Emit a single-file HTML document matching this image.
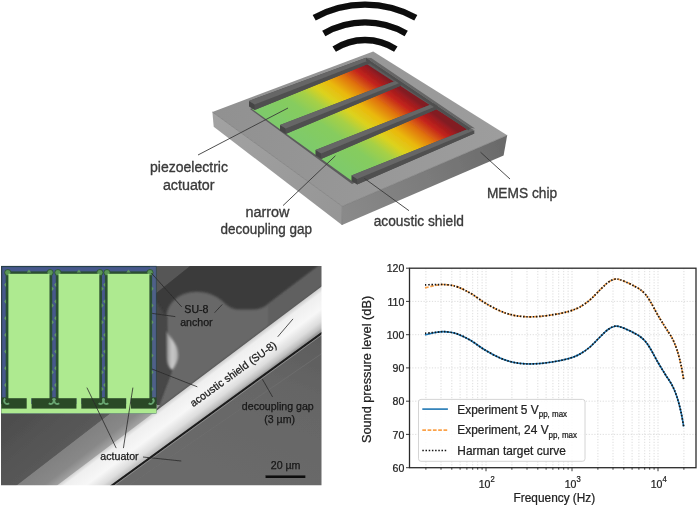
<!DOCTYPE html>
<html lang="en"><head><meta charset="utf-8"><title>MEMS loudspeaker figure</title>
<style>
html,body{margin:0;padding:0;background:#fff;}
body{width:700px;height:509px;overflow:hidden;font-family:"Liberation Sans",sans-serif;}
svg{display:block;}
.lbl{font-family:"Liberation Sans",sans-serif;fill:#3a3a3a;stroke:#3a3a3a;stroke-width:0.35px;}
.sem{font-family:"Liberation Sans",sans-serif;fill:#161616;stroke:#161616;stroke-width:0.25px;font-size:10.6px;}
.ax{font-family:"Liberation Sans",sans-serif;fill:#222;stroke:#222;stroke-width:0.25px;}
</style></head><body>
<svg width="700" height="509" viewBox="0 0 700 509">
<defs>
<filter id="soft" x="-5%" y="-5%" width="110%" height="110%"><feGaussianBlur stdDeviation="0.6"/></filter>
<filter id="soft2" x="-5%" y="-5%" width="110%" height="110%"><feGaussianBlur stdDeviation="0.9"/></filter>
<filter id="soft3" x="-5%" y="-5%" width="110%" height="110%"><feGaussianBlur stdDeviation="2"/></filter>
</defs>
<rect width="700" height="509" fill="#ffffff"/>

<g id="chip" filter="url(#soft)">
<path d="M314.2 17.7 A105 105 0 0 1 415.8 17.7" fill="none" stroke="#0a0a0a" stroke-width="6.3"/>
<path d="M323.8 33.5 A81.9 81.9 0 0 1 406.2 33.5" fill="none" stroke="#0a0a0a" stroke-width="6.3"/>
<path d="M334.2 49.2 A56.2 56.2 0 0 1 395.8 49.2" fill="none" stroke="#0a0a0a" stroke-width="6.3"/>
<linearGradient id="gTop" gradientUnits="userSpaceOnUse" x1="220" y1="110" x2="500" y2="140"><stop offset="0" stop-color="#919191"/><stop offset="1" stop-color="#9d9d9d"/></linearGradient>
<linearGradient id="gLeft" gradientUnits="userSpaceOnUse" x1="212" y1="120" x2="341" y2="215"><stop offset="0" stop-color="#a2a2a2"/><stop offset="1" stop-color="#969696"/></linearGradient>
<linearGradient id="gRight" gradientUnits="userSpaceOnUse" x1="341" y1="215" x2="505" y2="146"><stop offset="0" stop-color="#8a8a8a"/><stop offset="0.5" stop-color="#7c7c7c"/><stop offset="1" stop-color="#6a6a6a"/></linearGradient>
<polygon points="212.4,112.0 342.3,206.3 342.0,224.9 213.7,126.8" fill="url(#gLeft)" />
<polygon points="342.3,206.3 507.2,135.3 503.6,155.5 342.0,224.9" fill="url(#gRight)" />
<polygon points="212.4,112.0 373.2,51.5 507.2,135.3 342.3,206.3" fill="url(#gTop)" />
<path d="M212.4 112 L342.3 206.3 L507.2 135.3 M342.3 206.3 L342 224.9" fill="none" stroke="#777" stroke-width="0.7"/>
<linearGradient id="gMem" gradientUnits="userSpaceOnUse" x1="0" y1="0" x2="1" y2="0" gradientTransform="matrix(113 -46 98 72 252 109)">
<stop offset="0" stop-color="#7dca6c"/><stop offset="0.28" stop-color="#86cc5e"/><stop offset="0.42" stop-color="#a6d046"/><stop offset="0.53" stop-color="#dcd21e"/><stop offset="0.65" stop-color="#eab80c"/><stop offset="0.78" stop-color="#e0720f"/><stop offset="0.89" stop-color="#c4241c"/><stop offset="0.965" stop-color="#9c1a20"/><stop offset="1" stop-color="#821a22"/></linearGradient>
<polygon points="250.0,109.0 366.0,60.5 473.0,131.0 352.0,184.0" fill="#5c5c5c" />
<polygon points="252.0,109.0 365.0,63.0 469.0,130.5 352.0,181.0" fill="url(#gMem)" />
<polygon points="249.0,100.9 366.0,57.8 369.8,63.3 254.6,110.1" fill="#505050" />
<polygon points="254.6,104.5 369.8,60.1 369.8,63.3 254.6,110.1" fill="#505050" />
<polygon points="249.0,100.9 254.6,104.5 254.6,110.1 249.0,106.5" fill="#454545" />
<polygon points="249.0,100.9 366.0,57.8 369.8,60.1 254.6,104.5" fill="#666666" />
<polygon points="280.0,124.9 397.0,80.3 400.8,85.8 285.6,134.1" fill="#505050" />
<polygon points="285.6,128.5 400.8,82.6 400.8,85.8 285.6,134.1" fill="#505050" />
<polygon points="280.0,124.9 285.6,128.5 285.6,134.1 280.0,130.5" fill="#454545" />
<polygon points="280.0,124.9 397.0,80.3 400.8,82.6 285.6,128.5" fill="#666666" />
<polygon points="315.5,149.9 434.0,103.3 437.8,108.8 321.1,159.1" fill="#505050" />
<polygon points="321.1,153.5 437.8,105.6 437.8,108.8 321.1,159.1" fill="#505050" />
<polygon points="315.5,149.9 321.1,153.5 321.1,159.1 315.5,155.5" fill="#454545" />
<polygon points="315.5,149.9 434.0,103.3 437.8,105.6 321.1,153.5" fill="#666666" />
<polygon points="351.5,175.4 470.5,128.0 474.3,133.5 357.1,184.6" fill="#505050" />
<polygon points="357.1,179.0 474.3,130.3 474.3,133.5 357.1,184.6" fill="#505050" />
<polygon points="351.5,175.4 357.1,179.0 357.1,184.6 351.5,181.0" fill="#454545" />
<polygon points="351.5,175.4 470.5,128.0 474.3,130.3 357.1,179.0" fill="#666666" />
<polygon points="366.0,57.8 371.2,58.1 475.0,128.4 470.5,128.0" fill="#666666" />
<polygon points="366.0,57.8 366.0,61.0 468.5,130.6 470.5,128.0" fill="#505050" />
<line x1="198" y1="155" x2="288" y2="108" stroke="#3a3a3a" stroke-width="0.9"/>
<line x1="283" y1="205.6" x2="335.4" y2="155.8" stroke="#3a3a3a" stroke-width="0.9"/>
<line x1="409" y1="210.7" x2="364.3" y2="178.3" stroke="#3a3a3a" stroke-width="0.9"/>
<line x1="480.5" y1="152.2" x2="510" y2="179" stroke="#3a3a3a" stroke-width="0.9"/>
<text class="lbl" x="189" y="172.4" font-size="15.2" text-anchor="middle" textLength="78" lengthAdjust="spacingAndGlyphs">piezoelectric</text>
<text class="lbl" x="188.7" y="190.4" font-size="15.2" text-anchor="middle" textLength="51.6" lengthAdjust="spacingAndGlyphs">actuator</text>
<text class="lbl" x="267.5" y="216.5" font-size="15.2" text-anchor="middle" textLength="44.1" lengthAdjust="spacingAndGlyphs">narrow</text>
<text class="lbl" x="266.3" y="233.9" font-size="15.2" text-anchor="middle" textLength="91.5" lengthAdjust="spacingAndGlyphs">decoupling gap</text>
<text class="lbl" x="418.8" y="225.7" font-size="15.2" text-anchor="middle" textLength="90.2" lengthAdjust="spacingAndGlyphs">acoustic shield</text>
<text class="lbl" x="522" y="197.6" font-size="15.2" text-anchor="middle" textLength="70.2" lengthAdjust="spacingAndGlyphs">MEMS chip</text>
</g>
<clipPath id="cSem"><rect x="1" y="266" width="320.5" height="219.2"/></clipPath>
<g id="sem" clip-path="url(#cSem)" filter="url(#soft)">
<rect x="1" y="266" width="320.5" height="219.2" fill="#5e5e5e"/>
<linearGradient id="gLow" gradientUnits="userSpaceOnUse" x1="321" y1="335" x2="260" y2="485"><stop offset="0" stop-color="#5c5c5c"/><stop offset="0.35" stop-color="#656565"/><stop offset="1" stop-color="#6a6a6a"/></linearGradient>
<polygon points="330.0,325.9 100.0,493.1 100.0,500.0 330.0,500.0" fill="url(#gLow)" />
<polygon points="0.0,260.0 330.0,260.0 330.0,280.2 40.0,498.3 0.0,528.4" fill="#3b3b3b" />
<polygon points="150,258 200,258 150,298" fill="#575757" filter="url(#soft)"/>
<path d="M196 291.8 C211 291.8 219 298 225 303.5 Q231 309.6 240 309.6 L252 309.6 Q262 309.6 270 302.4 L340 249.7 L340 272.7 L120 438.2 L156 412 L172.4 368.6 L178 352 L167 333 C166 328 166.3 322 166.3 318 C166.3 303 180 291.8 196 291.8 Z" fill="#676767" filter="url(#soft2)"/>
<polygon points="268,304.9 340,250.7 340,272.7 268,326.9" fill="#5a5a5a" fill-opacity="0.55" filter="url(#soft2)"/>
<polygon points="155,300 167,318 167,333 173,366 156,412 150,412 150,300" fill="#474747" filter="url(#soft2)"/>
<linearGradient id="gCol" gradientUnits="userSpaceOnUse" x1="166" y1="350" x2="180" y2="350"><stop offset="0" stop-color="#8a8a8a"/><stop offset="0.45" stop-color="#c9c9c9"/><stop offset="0.8" stop-color="#b0b0b0"/><stop offset="1" stop-color="#7a7a7a"/></linearGradient>
<path d="M166.5 331 C170 337 177.5 344 178.5 353 C179 360 175 366 172.5 370 C169 368 167 364 166.8 358 Z" fill="url(#gCol)" filter="url(#soft2)"/>
<linearGradient id="gTri" gradientUnits="userSpaceOnUse" x1="20" y1="415" x2="65" y2="470"><stop offset="0" stop-color="#4e4e4e"/><stop offset="0.7" stop-color="#585858"/><stop offset="1" stop-color="#626262"/></linearGradient>
<polygon points="0.0,405.0 121.0,405.0 16.7,485.2 10.0,495.0 0.0,495.0" fill="url(#gTri)" />
<linearGradient id="gBand" gradientUnits="userSpaceOnUse" x1="50" y1="440" x2="76" y2="474"><stop offset="0" stop-color="#7a7a7a"/><stop offset="0.75" stop-color="#888888"/><stop offset="1" stop-color="#a8a8a8"/></linearGradient>
<polygon points="4.0,495.0 16.7,485.2 121.0,405.0 160.0,405.0 150.0,417.6 40.0,506.3 30.0,500.0" fill="url(#gBand)" />
<linearGradient id="gBar" gradientUnits="userSpaceOnUse" x1="190" y1="385.5" x2="210.9" y2="413.4"><stop offset="0" stop-color="#cfcfcf"/><stop offset="0.12" stop-color="#efefef"/><stop offset="0.5" stop-color="#f7f7f7"/><stop offset="0.78" stop-color="#dddddd"/><stop offset="0.93" stop-color="#bdbdbd"/><stop offset="1" stop-color="#9a9a9a"/></linearGradient>
<polygon points="-10.0,535.9 330.0,280.2 330.0,325.9 -10.0,573.0" fill="url(#gBar)" />
<line x1="90" y1="501.5" x2="330" y2="327.1" stroke="#1e1e1e" stroke-width="2"/>
<line x1="90" y1="503.3" x2="330" y2="328.9" stroke="#8a8a8a" stroke-width="1"/>
<line x1="120" y1="491.5" x2="330" y2="347.9" stroke="#6e6e6e" stroke-width="0.8"/>
</g>
<g id="inset" filter="url(#soft)">
<rect x="1.3" y="265.9" width="155.2" height="147.5" fill="#27404a"/>
<rect x="2.2" y="267.09999999999997" width="153.39999999999998" height="146.3" fill="#46598c"/>
<rect x="150" y="266.7" width="5.8" height="146.5" fill="#4f6088"/>
<rect x="1.3" y="404" width="155.2" height="9.399999999999977" fill="#aeea90"/>
<rect x="1.3" y="397.4" width="25.7" height="11.2" fill="#2b4a28"/>
<rect x="31.5" y="397.4" width="45.2" height="11.2" fill="#2b4a28"/>
<rect x="81.2" y="397.4" width="45.2" height="11.2" fill="#2b4a28"/>
<rect x="130.9" y="397.4" width="25.599999999999994" height="11.2" fill="#2b4a28"/>
<rect x="5.7" y="271.40000000000003" width="46.5" height="126.6" fill="#2a4f30"/>
<rect x="55.8" y="271.40000000000003" width="46.199999999999996" height="126.6" fill="#2a4f30"/>
<rect x="104.89999999999999" y="271.40000000000003" width="47.20000000000001" height="126.6" fill="#2a4f30"/>
<polygon points="6.0,282.6 4.0,284.8 6.0,287.0" fill="#5f9660"/>
<polygon points="51.9,286.6 53.9,288.8 51.9,291.0" fill="#5f9660"/>
<polygon points="6.0,299.3 4.0,301.5 6.0,303.7" fill="#5f9660"/>
<polygon points="51.9,303.3 53.9,305.5 51.9,307.7" fill="#5f9660"/>
<polygon points="6.0,316.0 4.0,318.2 6.0,320.4" fill="#5f9660"/>
<polygon points="51.9,320.0 53.9,322.2 51.9,324.4" fill="#5f9660"/>
<polygon points="6.0,332.7 4.0,334.9 6.0,337.09999999999997" fill="#5f9660"/>
<polygon points="51.9,336.7 53.9,338.9 51.9,341.09999999999997" fill="#5f9660"/>
<polygon points="6.0,349.40000000000003 4.0,351.6 6.0,353.8" fill="#5f9660"/>
<polygon points="51.9,353.40000000000003 53.9,355.6 51.9,357.8" fill="#5f9660"/>
<polygon points="6.0,366.1 4.0,368.3 6.0,370.5" fill="#5f9660"/>
<polygon points="51.9,370.1 53.9,372.3 51.9,374.5" fill="#5f9660"/>
<polygon points="6.0,382.8 4.0,385.0 6.0,387.2" fill="#5f9660"/>
<polygon points="51.9,386.8 53.9,389.0 51.9,391.2" fill="#5f9660"/>
<polygon points="56.1,282.6 54.1,284.8 56.1,287.0" fill="#5f9660"/>
<polygon points="101.7,286.6 103.7,288.8 101.7,291.0" fill="#5f9660"/>
<polygon points="56.1,299.3 54.1,301.5 56.1,303.7" fill="#5f9660"/>
<polygon points="101.7,303.3 103.7,305.5 101.7,307.7" fill="#5f9660"/>
<polygon points="56.1,316.0 54.1,318.2 56.1,320.4" fill="#5f9660"/>
<polygon points="101.7,320.0 103.7,322.2 101.7,324.4" fill="#5f9660"/>
<polygon points="56.1,332.7 54.1,334.9 56.1,337.09999999999997" fill="#5f9660"/>
<polygon points="101.7,336.7 103.7,338.9 101.7,341.09999999999997" fill="#5f9660"/>
<polygon points="56.1,349.40000000000003 54.1,351.6 56.1,353.8" fill="#5f9660"/>
<polygon points="101.7,353.40000000000003 103.7,355.6 101.7,357.8" fill="#5f9660"/>
<polygon points="56.1,366.1 54.1,368.3 56.1,370.5" fill="#5f9660"/>
<polygon points="101.7,370.1 103.7,372.3 101.7,374.5" fill="#5f9660"/>
<polygon points="56.1,382.8 54.1,385.0 56.1,387.2" fill="#5f9660"/>
<polygon points="101.7,386.8 103.7,389.0 101.7,391.2" fill="#5f9660"/>
<polygon points="105.19999999999999,282.6 103.19999999999999,284.8 105.19999999999999,287.0" fill="#5f9660"/>
<polygon points="151.8,286.6 153.6,288.8 151.8,291.0" fill="#5f9660"/>
<polygon points="105.19999999999999,299.3 103.19999999999999,301.5 105.19999999999999,303.7" fill="#5f9660"/>
<polygon points="151.8,303.3 153.6,305.5 151.8,307.7" fill="#5f9660"/>
<polygon points="105.19999999999999,316.0 103.19999999999999,318.2 105.19999999999999,320.4" fill="#5f9660"/>
<polygon points="151.8,320.0 153.6,322.2 151.8,324.4" fill="#5f9660"/>
<polygon points="105.19999999999999,332.7 103.19999999999999,334.9 105.19999999999999,337.09999999999997" fill="#5f9660"/>
<polygon points="151.8,336.7 153.6,338.9 151.8,341.09999999999997" fill="#5f9660"/>
<polygon points="105.19999999999999,349.40000000000003 103.19999999999999,351.6 105.19999999999999,353.8" fill="#5f9660"/>
<polygon points="151.8,353.40000000000003 153.6,355.6 151.8,357.8" fill="#5f9660"/>
<polygon points="105.19999999999999,366.1 103.19999999999999,368.3 105.19999999999999,370.5" fill="#5f9660"/>
<polygon points="151.8,370.1 153.6,372.3 151.8,374.5" fill="#5f9660"/>
<polygon points="105.19999999999999,382.8 103.19999999999999,385.0 105.19999999999999,387.2" fill="#5f9660"/>
<polygon points="151.8,386.8 153.6,389.0 151.8,391.2" fill="#5f9660"/>
<circle cx="7.800000000000001" cy="272.6" r="3.1" fill="#5a9656"/>
<circle cx="7.800000000000001" cy="272.6" r="3.1" fill="none" stroke="#2a4f30" stroke-width="0.8"/>
<circle cx="50.1" cy="272.6" r="3.1" fill="#5a9656"/>
<circle cx="50.1" cy="272.6" r="3.1" fill="none" stroke="#2a4f30" stroke-width="0.8"/>
<polygon points="26.75,272.4 28.95,269.6 31.15,272.4" fill="#5f9660"/>
<path d="M5.300000000000001 398.5 A3 3 0 0 0 9.1 403.2" fill="none" stroke="#68a470" stroke-width="1.9"/>
<path d="M52.6 398.5 A3 3 0 0 1 48.8 403.2" fill="none" stroke="#68a470" stroke-width="1.9"/>
<circle cx="57.9" cy="272.6" r="3.1" fill="#5a9656"/>
<circle cx="57.9" cy="272.6" r="3.1" fill="none" stroke="#2a4f30" stroke-width="0.8"/>
<circle cx="99.89999999999999" cy="272.6" r="3.1" fill="#5a9656"/>
<circle cx="99.89999999999999" cy="272.6" r="3.1" fill="none" stroke="#2a4f30" stroke-width="0.8"/>
<polygon points="76.7,272.4 78.9,269.6 81.10000000000001,272.4" fill="#5f9660"/>
<path d="M55.4 398.5 A3 3 0 0 0 59.2 403.2" fill="none" stroke="#68a470" stroke-width="1.9"/>
<path d="M102.39999999999999 398.5 A3 3 0 0 1 98.6 403.2" fill="none" stroke="#68a470" stroke-width="1.9"/>
<circle cx="107.0" cy="272.6" r="3.1" fill="#5a9656"/>
<circle cx="107.0" cy="272.6" r="3.1" fill="none" stroke="#2a4f30" stroke-width="0.8"/>
<circle cx="150.0" cy="272.6" r="3.1" fill="#5a9656"/>
<circle cx="150.0" cy="272.6" r="3.1" fill="none" stroke="#2a4f30" stroke-width="0.8"/>
<polygon points="126.3,272.4 128.5,269.6 130.7,272.4" fill="#5f9660"/>
<path d="M104.5 398.5 A3 3 0 0 0 108.3 403.2" fill="none" stroke="#68a470" stroke-width="1.9"/>
<path d="M152.5 398.5 A3 3 0 0 1 148.70000000000002 403.2" fill="none" stroke="#68a470" stroke-width="1.9"/>
<rect x="8.4" y="273.8" width="41.1" height="124.4" fill="#aeea90"/>
<rect x="26.7" y="396" width="4.5" height="14" fill="#aeea90"/>
<rect x="58.5" y="273.8" width="40.8" height="124.4" fill="#aeea90"/>
<rect x="76.65" y="396" width="4.5" height="14" fill="#aeea90"/>
<rect x="107.6" y="273.8" width="41.80000000000001" height="124.4" fill="#aeea90"/>
<rect x="126.25" y="396" width="4.5" height="14" fill="#aeea90"/>
</g>
<g id="semtext" filter="url(#soft)">
<line x1="151.3" y1="273" x2="181.8" y2="307" stroke="#2a2a2a" stroke-width="0.8"/>
<line x1="152.2" y1="313.4" x2="175.3" y2="316.6" stroke="#2a2a2a" stroke-width="0.8"/>
<line x1="214.5" y1="312.8" x2="222.3" y2="304.4" stroke="#2a2a2a" stroke-width="0.8"/>
<line x1="277.7" y1="336.8" x2="293" y2="318.9" stroke="#2a2a2a" stroke-width="0.8"/>
<line x1="152" y1="369" x2="197.3" y2="386.8" stroke="#2a2a2a" stroke-width="0.8"/>
<line x1="262.4" y1="379.2" x2="272.6" y2="397" stroke="#2a2a2a" stroke-width="0.8"/>
<line x1="86.9" y1="387.6" x2="116.2" y2="448.1" stroke="#2a2a2a" stroke-width="0.8"/>
<line x1="132.9" y1="387.6" x2="123.4" y2="448.1" stroke="#2a2a2a" stroke-width="0.8"/>
<line x1="143" y1="457" x2="181.2" y2="461" stroke="#2a2a2a" stroke-width="0.8"/>
<text class="sem" x="196.4" y="313.3" text-anchor="middle" >SU-8</text>
<text class="sem" x="196.4" y="326" text-anchor="middle" >anchor</text>
<text class="sem" x="277.8" y="409.8" text-anchor="middle" >decoupling gap</text>
<text class="sem" x="279.6" y="423.1" text-anchor="middle" >(3 µm)</text>
<text class="sem" x="285.6" y="468.6" text-anchor="middle" >20 µm</text>
<text class="sem" x="119.5" y="460.4" text-anchor="middle" >actuator</text>
<text class="sem" transform="translate(193.2,407.2) rotate(-35.8)" x="0" y="0">acoustic shield (SU-8)</text>
<rect x="265.5" y="475.4" width="39.8" height="2.6" fill="#111"/>
</g>
<g id="chart" filter="url(#soft)">
<rect x="409.5" y="268.2" width="286.5" height="199.5" fill="#fff"/>
<path d="M409.5 434.4H696M409.5 401.2H696M409.5 367.9H696M409.5 334.7H696M409.5 301.4H696M425.9 268.2V467.7M441.0 268.2V467.7M451.8 268.2V467.7M460.1 268.2V467.7M466.9 268.2V467.7M472.7 268.2V467.7M477.7 268.2V467.7M482.1 268.2V467.7M486.0 268.2V467.7M511.9 268.2V467.7M527.0 268.2V467.7M537.8 268.2V467.7M546.1 268.2V467.7M552.9 268.2V467.7M558.7 268.2V467.7M563.7 268.2V467.7M568.1 268.2V467.7M572.0 268.2V467.7M597.9 268.2V467.7M613.0 268.2V467.7M623.8 268.2V467.7M632.1 268.2V467.7M638.9 268.2V467.7M644.7 268.2V467.7M649.7 268.2V467.7M654.1 268.2V467.7M658.0 268.2V467.7M683.9 268.2V467.7" fill="none" stroke="#d4d4d4" stroke-width="0.8" stroke-dasharray="1.2 1.6"/>
<clipPath id="cAx"><rect x="409.5" y="268.2" width="286.5" height="199.5"/></clipPath>
<g clip-path="url(#cAx)">
<path d="M425.0 335.0C426.2 334.7 429.8 333.7 432.0 333.2C434.2 332.7 436.2 332.4 438.0 332.1C439.8 331.8 441.0 331.6 443.0 331.6C445.0 331.6 447.5 331.8 450.0 332.2C452.5 332.6 454.7 332.9 458.0 334.2C461.3 335.5 465.5 337.4 470.0 340.0C474.5 342.6 480.0 347.0 485.0 350.0C490.0 353.0 495.5 356.0 500.0 358.0C504.5 360.0 507.8 361.0 512.0 362.0C516.2 363.0 520.3 363.6 525.0 363.8C529.7 364.1 535.0 363.9 540.0 363.5C545.0 363.1 550.8 362.2 555.0 361.5C559.2 360.8 562.2 360.2 565.0 359.5C567.8 358.8 569.5 358.4 572.0 357.5C574.5 356.6 577.0 355.8 580.0 354.0C583.0 352.2 586.7 349.8 590.0 347.0C593.3 344.2 597.0 339.9 600.0 337.0C603.0 334.1 605.5 331.3 608.0 329.5C610.5 327.7 613.0 326.6 615.0 326.2C617.0 325.8 617.8 326.2 620.0 326.8C622.2 327.4 625.5 328.9 628.0 330.0C630.5 331.1 633.0 332.4 635.0 333.5C637.0 334.6 638.3 335.2 640.0 336.5C641.7 337.8 643.3 339.1 645.0 341.0C646.7 342.9 647.8 344.4 650.0 348.0C652.2 351.6 655.5 358.2 658.0 362.5C660.5 366.8 662.7 370.2 665.0 374.0C667.3 377.8 670.0 381.2 672.0 385.0C674.0 388.8 675.5 392.5 677.0 397.0C678.5 401.5 679.9 407.1 681.0 412.0C682.1 416.9 683.2 424.1 683.7 426.5" fill="none" stroke="#1f77b4" stroke-width="1.6"/>
<path d="M425.0 287.9C426.2 287.6 429.8 286.6 432.0 286.1C434.2 285.6 436.2 285.3 438.0 285.0C439.8 284.7 441.0 284.5 443.0 284.5C445.0 284.5 447.5 284.7 450.0 285.1C452.5 285.5 454.7 285.8 458.0 287.1C461.3 288.4 465.5 290.3 470.0 292.9C474.5 295.5 480.0 299.9 485.0 302.9C490.0 305.9 495.5 308.9 500.0 310.9C504.5 312.9 507.8 313.9 512.0 314.9C516.2 315.9 520.3 316.4 525.0 316.7C529.7 316.9 535.0 316.8 540.0 316.4C545.0 316.0 550.8 315.1 555.0 314.4C559.2 313.7 562.2 313.1 565.0 312.4C567.8 311.7 569.5 311.3 572.0 310.4C574.5 309.5 577.0 308.6 580.0 306.9C583.0 305.1 586.7 302.7 590.0 299.9C593.3 297.1 597.0 292.8 600.0 289.9C603.0 287.0 605.5 284.2 608.0 282.4C610.5 280.6 613.0 279.5 615.0 279.1C617.0 278.6 617.8 279.1 620.0 279.7C622.2 280.3 625.5 281.8 628.0 282.9C630.5 284.0 633.0 285.3 635.0 286.4C637.0 287.5 638.3 288.1 640.0 289.4C641.7 290.6 643.3 292.0 645.0 293.9C646.7 295.8 647.8 297.3 650.0 300.9C652.2 304.5 655.5 311.1 658.0 315.4C660.5 319.7 662.7 323.1 665.0 326.9C667.3 330.6 670.0 334.1 672.0 337.9C674.0 341.7 675.5 345.4 677.0 349.9C678.5 354.4 679.9 360.0 681.0 364.9C682.1 369.8 683.2 377.0 683.7 379.4" fill="none" stroke="#fba24a" stroke-width="1.7" stroke-dasharray="3.7 1.6"/>
<path d="M425.0 333.3C426.2 333.2 429.8 332.9 432.0 332.7C434.2 332.5 436.2 332.3 438.0 332.1C439.8 331.9 441.0 331.6 443.0 331.6C445.0 331.6 447.5 331.8 450.0 332.2C452.5 332.6 454.7 332.9 458.0 334.2C461.3 335.5 465.5 337.4 470.0 340.0C474.5 342.6 480.0 347.0 485.0 350.0C490.0 353.0 495.5 356.0 500.0 358.0C504.5 360.0 507.8 361.0 512.0 362.0C516.2 363.0 520.3 363.6 525.0 363.8C529.7 364.1 535.0 363.9 540.0 363.5C545.0 363.1 550.8 362.2 555.0 361.5C559.2 360.8 562.2 360.2 565.0 359.5C567.8 358.8 569.5 358.4 572.0 357.5C574.5 356.6 577.0 355.8 580.0 354.0C583.0 352.2 586.7 349.8 590.0 347.0C593.3 344.2 597.0 339.9 600.0 337.0C603.0 334.1 605.5 331.3 608.0 329.5C610.5 327.7 613.0 326.6 615.0 326.2C617.0 325.8 617.8 326.2 620.0 326.8C622.2 327.4 625.5 328.9 628.0 330.0C630.5 331.1 633.0 332.4 635.0 333.5C637.0 334.6 638.3 335.2 640.0 336.5C641.7 337.8 643.3 339.1 645.0 341.0C646.7 342.9 647.8 344.4 650.0 348.0C652.2 351.6 655.5 358.2 658.0 362.5C660.5 366.8 662.7 370.2 665.0 374.0C667.3 377.8 670.0 381.2 672.0 385.0C674.0 388.8 675.5 392.5 677.0 397.0C678.5 401.5 679.9 407.1 681.0 412.0C682.1 416.9 683.2 424.1 683.7 426.5" fill="none" stroke="#151515" stroke-width="1.7" stroke-dasharray="1.5 1.7"/>
<path d="M425.0 284.8C426.2 284.8 429.8 284.7 432.0 284.7C434.2 284.7 436.2 284.6 438.0 284.6C439.8 284.6 441.0 284.4 443.0 284.5C445.0 284.6 447.5 284.7 450.0 285.1C452.5 285.5 454.7 285.8 458.0 287.1C461.3 288.4 465.5 290.3 470.0 292.9C474.5 295.5 480.0 299.9 485.0 302.9C490.0 305.9 495.5 308.9 500.0 310.9C504.5 312.9 507.8 313.9 512.0 314.9C516.2 315.9 520.3 316.4 525.0 316.7C529.7 316.9 535.0 316.8 540.0 316.4C545.0 316.0 550.8 315.1 555.0 314.4C559.2 313.7 562.2 313.1 565.0 312.4C567.8 311.7 569.5 311.3 572.0 310.4C574.5 309.5 577.0 308.6 580.0 306.9C583.0 305.1 586.7 302.7 590.0 299.9C593.3 297.1 597.0 292.8 600.0 289.9C603.0 287.0 605.5 284.2 608.0 282.4C610.5 280.6 613.0 279.5 615.0 279.1C617.0 278.6 617.8 279.1 620.0 279.7C622.2 280.3 625.5 281.8 628.0 282.9C630.5 284.0 633.0 285.3 635.0 286.4C637.0 287.5 638.3 288.1 640.0 289.4C641.7 290.6 643.3 292.0 645.0 293.9C646.7 295.8 647.8 297.3 650.0 300.9C652.2 304.5 655.5 311.1 658.0 315.4C660.5 319.7 662.7 323.1 665.0 326.9C667.3 330.6 670.0 334.1 672.0 337.9C674.0 341.7 675.5 345.4 677.0 349.9C678.5 354.4 679.9 360.0 681.0 364.9C682.1 369.8 683.2 377.0 683.7 379.4" fill="none" stroke="#151515" stroke-width="1.7" stroke-dasharray="1.5 1.7"/>
</g>
<rect x="409.5" y="268.2" width="286.5" height="199.5" fill="none" stroke="#2a2a2a" stroke-width="1.3"/>
<path d="M409.5 467.7h-3.5M409.5 434.4h-3.5M409.5 401.2h-3.5M409.5 367.9h-3.5M409.5 334.7h-3.5M409.5 301.4h-3.5M409.5 268.2h-3.5M486.0 467.7v3.5M572.0 467.7v3.5M658.0 467.7v3.5M425.9 467.7v2M441.0 467.7v2M451.8 467.7v2M460.1 467.7v2M466.9 467.7v2M472.7 467.7v2M477.7 467.7v2M482.1 467.7v2M511.9 467.7v2M527.0 467.7v2M537.8 467.7v2M546.1 467.7v2M552.9 467.7v2M558.7 467.7v2M563.7 467.7v2M568.1 467.7v2M597.9 467.7v2M613.0 467.7v2M623.8 467.7v2M632.1 467.7v2M638.9 467.7v2M644.7 467.7v2M649.7 467.7v2M654.1 467.7v2M683.9 467.7v2" fill="none" stroke="#222" stroke-width="0.9"/>
<text class="ax" transform="translate(404.4,471.8) scale(0.93,1)" font-size="11.4" text-anchor="end">60</text>
<text class="ax" transform="translate(404.4,438.6) scale(0.93,1)" font-size="11.4" text-anchor="end">70</text>
<text class="ax" transform="translate(404.4,405.3) scale(0.93,1)" font-size="11.4" text-anchor="end">80</text>
<text class="ax" transform="translate(404.4,372.1) scale(0.93,1)" font-size="11.4" text-anchor="end">90</text>
<text class="ax" transform="translate(404.4,338.8) scale(0.93,1)" font-size="11.4" text-anchor="end">100</text>
<text class="ax" transform="translate(404.4,305.6) scale(0.93,1)" font-size="11.4" text-anchor="end">110</text>
<text class="ax" transform="translate(404.4,272.3) scale(0.93,1)" font-size="11.4" text-anchor="end">120</text>
<text class="ax" transform="translate(478.7,487.6) scale(0.93,1)" font-size="11.4" text-anchor="start">10<tspan dy="-5.2" font-size="8.2">2</tspan></text>
<text class="ax" transform="translate(564.7,487.6) scale(0.93,1)" font-size="11.4" text-anchor="start">10<tspan dy="-5.2" font-size="8.2">3</tspan></text>
<text class="ax" transform="translate(650.7,487.6) scale(0.93,1)" font-size="11.4" text-anchor="start">10<tspan dy="-5.2" font-size="8.2">4</tspan></text>
<text class="ax" transform="translate(554.4,502.4) scale(0.93,1)" font-size="12.75" text-anchor="middle">Frequency (Hz)</text>
<text class="ax" transform="translate(371.2,369.5) rotate(-90) scale(1,0.93)" font-size="12.75" text-anchor="middle">Sound pressure level (dB)</text>
<rect x="418.5" y="399.4" width="166.5" height="61.9" rx="2.5" fill="#fff" fill-opacity="0.85" stroke="#cfcfcf" stroke-width="0.9"/>
<line x1="422.3" y1="409.1" x2="447.9" y2="409.1" stroke="#1f77b4" stroke-width="1.6"/>
<line x1="422.3" y1="430.1" x2="447.9" y2="430.1" stroke="#fba24a" stroke-width="1.7" stroke-dasharray="3.7 1.6"/>
<line x1="422.3" y1="450.5" x2="447.9" y2="450.5" stroke="#151515" stroke-width="1.7" stroke-dasharray="1.5 1.7"/>
<text class="ax" transform="translate(457.3,413.5) scale(0.93,1)" font-size="12.8" text-anchor="start">Experiment 5 V<tspan dy="3.3" font-size="8.6">pp, max</tspan></text>
<text class="ax" transform="translate(457.3,434.4) scale(0.93,1)" font-size="12.8" text-anchor="start">Experiment, 24 V<tspan dy="3.3" font-size="8.6">pp, max</tspan></text>
<text class="ax" transform="translate(457.3,454.9) scale(0.93,1)" font-size="12.8" text-anchor="start">Harman target curve</text>
</g>
</svg></body></html>
